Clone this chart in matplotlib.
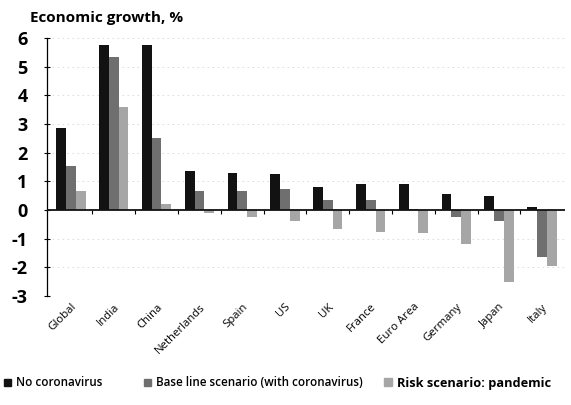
import matplotlib
matplotlib.use("Agg")
import matplotlib.pyplot as plt
import numpy as np
from matplotlib.patches import Patch

categories = ["Global", "India", "China", "Netherlands", "Spain", "US", "UK",
              "France", "Euro Area", "Germany", "Japan", "Italy"]
no_corona = [2.85, 5.75, 5.75, 1.35, 1.3, 1.25, 0.8, 0.9, 0.9, 0.55, 0.5, 0.1]
base_line = [1.55, 5.35, 2.5, 0.65, 0.67, 0.75, 0.35, 0.35, 0.05, -0.25, -0.4, -1.65]
risk = [0.65, 3.6, 0.2, -0.12, -0.25, -0.38, -0.65, -0.75, -0.8, -1.2, -2.5, -1.95]
series_names = ["No coronavirus", "Base line scenario (with coronavirus)",
                "Risk scenario: pandemic"]
yticks = [6, 5, 4, 3, 2, 1, 0, -1, -2, -3]

plt.rcParams['font.family'] = ['Open Sans', 'DejaVu Sans']
colors = ["#121212", "#6f6f6f", "#a6a6a6"]

fig = plt.figure(figsize=(5.71, 4.05), dpi=100)
ax = fig.add_axes([47/571, 1-296/405, (565-47)/571, (296-38)/405])

x = np.arange(len(categories))
w = 0.228
for k, (vals, c) in enumerate(zip([no_corona, base_line, risk], colors)):
    ax.bar(x + (k-1)*w, vals, width=w, color=c, edgecolor='none', zorder=3)

ax.set_ylim(-3, 6)
ax.set_xlim(-0.56, len(categories)-0.46)
ax.set_yticks(yticks)
ax.set_yticklabels([str(t) for t in yticks], fontsize=13, fontweight='bold')
ax.tick_params(axis='y', direction='inout', length=4, pad=12, width=0.8)
for t in yticks:
    if t != 0:
        ax.axhline(t, color='#d8d8d8', lw=0.6, ls=(0, (2, 4)), zorder=1)

for s in ['top', 'right', 'bottom']:
    ax.spines[s].set_visible(False)
ax.spines['left'].set_linewidth(0.9)
ax.axhline(0, color='#111111', lw=1.3, zorder=4)

ax.set_xticks(x)
ax.set_xticklabels(categories, rotation=45, ha='right', va='top',
                   rotation_mode='anchor', fontsize=8.2)
ax.tick_params(axis='x', length=0, pad=4)

sec = ax.secondary_xaxis(1/3)
sec.set_xticks(x[:-1] + 0.5)
sec.set_xticklabels([])
sec.tick_params(axis='x', direction='out', length=3, width=0.8)
sec.spines['bottom'].set_visible(False)
sec.spines['top'].set_visible(False)

fig.text(30/571, 1-18/405, "Economic growth, %", fontsize=11,
         fontweight='bold', ha='left', va='center')

legend_x = [4/571, 144/571, 384/571]
legend_weight = ['semibold', 'semibold', 'bold']
legend_size = [8.4, 8.4, 9.2]
for name, c, lx, wt, fs in zip(series_names, colors, legend_x, legend_weight, legend_size):
    lg = fig.legend([Patch(color=c)], [name], loc='center left',
                    bbox_to_anchor=(lx, 1-383/405), frameon=False, fontsize=fs,
                    handlelength=0.6, handleheight=0.6, handletextpad=0.4,
                    borderaxespad=0, borderpad=0)
    for t in lg.get_texts():
        t.set_fontweight(wt)

fig.savefig("out.png", dpi=100)
